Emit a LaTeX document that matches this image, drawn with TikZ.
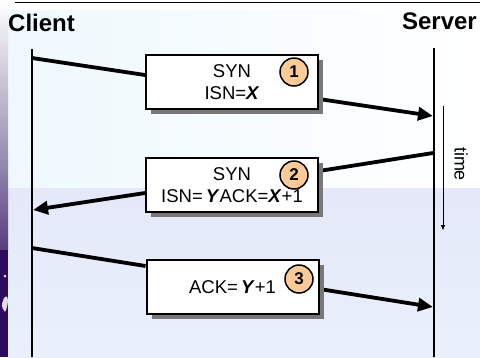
\documentclass[tikz,border=0pt]{standalone}
\usepackage{fontspec}
\setmainfont{Liberation Sans}
\usetikzlibrary{arrows.meta,shadows,calc}
\definecolor{numfill}{RGB}{251,202,150}
\definecolor{bgtop}{RGB}{238,248,253}
\definecolor{bglow}{RGB}{228,232,249}
\definecolor{bglow2}{RGB}{234,240,251}
\definecolor{stripmid}{RGB}{150,140,175}
\definecolor{stripdark}{RGB}{45,12,95}
\definecolor{shadowgray}{RGB}{120,120,120}
\pgfdeclarelayer{bg}
\pgfdeclarelayer{conn}
\pgfsetlayers{bg,conn,main}
\begin{document}
\begin{tikzpicture}[x=1pt,y=-1pt,
  msgbox/.style={draw=black, line width=2pt, fill=white, minimum width=172pt, minimum height=54pt,
    inner sep=0pt, align=center, font=\fontsize{18.5}{21.5}\selectfont,
    drop shadow={shadow xshift=5pt, shadow yshift=-5pt, fill=shadowgray, opacity=1}},
  numcircle/.style={circle, draw=black, line width=1.5pt, fill=numfill, minimum size=28pt, inner sep=0pt,
    font=\fontsize{17}{17}\selectfont\bfseries},
  lifeline/.style={line width=2pt, black},
  msg/.style={line width=3.8pt, black},
  msgarrow/.style={msg, -{Triangle[length=15pt,width=13pt]}},
  title/.style={font=\fontsize{24}{24}\selectfont\bfseries, inner sep=0pt}
]
\useasboundingbox (0,0) rectangle (480,357);
\begin{pgfonlayer}{bg}
  \fill[white] (0,0) rectangle (480,357);
  \shade[left color=bgtop, right color=white] (8,10) rectangle (480,188);
  \shade[top color=bglow, bottom color=bglow2] (8,188) rectangle (480,357);
  \shade[top color=white, bottom color=stripmid] (0,0) rectangle (8,160);
  \shade[top color=stripmid, bottom color=stripdark!80!white] (0,160) rectangle (8,250);
  \fill[stripdark] (0,250) rectangle (8,357);
  \fill[white!85!stripdark] (5,276) circle (1.5);
  \fill[white!85!stripdark] (4,298) .. controls (9,292) and (9,305) .. (5,312) .. controls (1,306) .. (4,298);
\end{pgfonlayer}

\draw[line width=1pt] (15,2) -- (480,2);
\node[title, anchor=base west] (client) at (8,31) {Client};
\node[title, anchor=base east] (server) at (477,29) {Server};

\coordinate (ctop) at (32,49);
\coordinate (cbot) at (32,357);
\coordinate (stop) at (434,48);
\coordinate (sbot) at (434,357);
\draw[lifeline] (ctop) -- (cbot);
\draw[lifeline] (stop) -- (sbot);

\node[msgbox] (box1) at (232,82) {SYN\\ISN=\textbf{\textit{X}}};
\node[msgbox] (box2) at (232,185) {SYN\\ISN=\,\textbf{\textit{Y}}ACK=\textbf{\textit{X}}+1};
\node[msgbox] (box3) at (232.5,287) {ACK=\,\textbf{\textit{Y}}+1};

\node[numcircle] (n1) at (294,72) {1};
\node[numcircle] (n2) at (294,175) {2};
\node[numcircle] (n3) at (299,279) {3};

\coordinate (c1) at (32,58);
\coordinate (s1) at (433,116);
\coordinate (s2) at (433,153);
\coordinate (c2) at (33,210);
\coordinate (c3) at (32,248);
\coordinate (s3) at (433,307);

\begin{pgfonlayer}{conn}
  \draw[msg] (c1) -- ($(box1.west)+(0,-7)$);
  \draw[msgarrow] ($(box1.east)+(0,17)$) -- (s1);
  \draw[msg] (s2) -- ($(box2.east)+(0,-14)$);
  \draw[msgarrow] ($(box2.west)+(0,8)$) -- (c2);
  \draw[msg] (c3) -- ($(box3.west)+(0,-21)$);
  \draw[msgarrow] ($(box3.east)+(0,2)$) -- (s3);
\end{pgfonlayer}

\coordinate (t1) at (443,106);
\coordinate (t2) at (443,230);
\draw[line width=0.8pt, -{Triangle[length=5pt,width=4pt]}] (t1) -- (t2);
\node[rotate=-90, font=\fontsize{18}{18}\selectfont, inner sep=0pt] (time) at (461,164) {time};
\end{tikzpicture}
\end{document}
